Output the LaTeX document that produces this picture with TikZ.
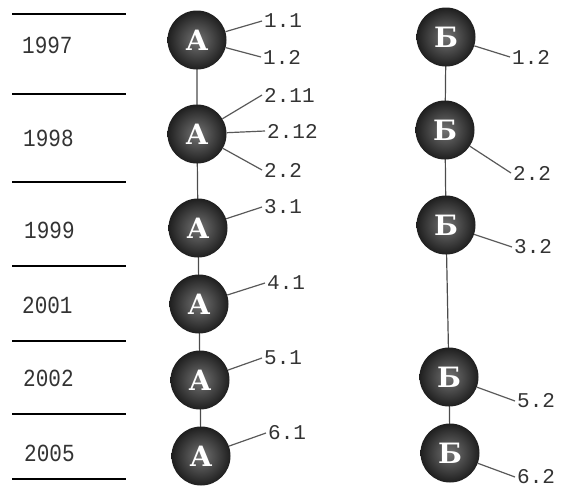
\documentclass[tikz,border=0pt]{standalone}
\usepackage{fontspec}
\setmonofont{Liberation Mono}
\newfontfamily\letterfont{DejaVu Serif}
\newcommand{\yeartext}[1]{\scalebox{1}[1.17]{#1}}
\begin{document}
\begin{tikzpicture}[x=1pt,y=-1pt,
  ball/.style={circle,minimum size=59pt,inner sep=0pt,shade,inner color=black!55,outer color=black!88,
    text=white,font=\letterfont\bfseries\fontsize{28}{28}\selectfont},
  lbl/.style={anchor=west,inner sep=2pt,text=black!80,font=\ttfamily\fontsize{21}{21}\selectfont},
  yr/.style={anchor=west,inner sep=0pt,text=black!80,font=\ttfamily\fontsize{21}{21}\selectfont},
  rule/.style={line width=2pt,black},
  link/.style={line width=1.2pt,black!70},
  leg/.style={line width=1.2pt,black!65}]
\useasboundingbox (0,0) rectangle (565,491);
% horizontal rules
\foreach \i/\y in {r1/14,r2/94,r3/182,r4/266,r5/341,r6/414,r7/479}{
  \coordinate (\i a) at (12,\y); \coordinate (\i b) at (126,\y);
  \draw[rule] (\i a) -- (\i b);}
% years
\node[yr] (y1) at (22,45) {\yeartext{1997}};
\node[yr] (y2) at (23,138) {\yeartext{1998}};
\node[yr] (y3) at (24,230) {\yeartext{1999}};
\node[yr] (y4) at (22,305) {\yeartext{2001}};
\node[yr] (y5) at (23,378) {\yeartext{2002}};
\node[yr] (y6) at (24,453) {\yeartext{2005}};
% A column
\coordinate (ca1) at (197,40);
\coordinate (ca2) at (197,134);
\coordinate (ca3) at (198,228);
\coordinate (ca4) at (199,304);
\coordinate (ca5) at (200,380);
\coordinate (ca6) at (201,456);
% B column
\coordinate (cb1) at (446,37);
\coordinate (cb2) at (445,130);
\coordinate (cb3) at (446,225);
\coordinate (cb5) at (449,377);
\coordinate (cb6) at (450,453);
% vertical links (drawn first, under balls)
\draw[link] (ca1) -- (ca2) -- (ca3) -- (ca4) -- (ca5) -- (ca6);
\draw[link] (cb1) -- (cb2) -- (cb3) -- (cb5) -- (cb6);
% balls
\foreach \n in {1,...,6}{\node[ball] (A\n) at (ca\n) {А};}
\foreach \n in {1,2,3,5,6}{\node[ball] (B\n) at (cb\n) {Б};}
% labels A
\node[lbl] (l11) at (262,21) {1.1};
\node[lbl] (l12) at (261,57) {1.2};
\node[lbl] (l211) at (262,95) {2.11};
\node[lbl] (l212) at (265,131) {2.12};
\node[lbl] (l22) at (262,170) {2.2};
\node[lbl] (l31) at (262,207) {3.1};
\node[lbl] (l41) at (265,283) {4.1};
\node[lbl] (l51) at (262,358) {5.1};
\node[lbl] (l61) at (266,433) {6.1};
% labels B
\node[lbl] (m12) at (510,57) {1.2};
\node[lbl] (m22) at (511,173) {2.2};
\node[lbl] (m32) at (512,247) {3.2};
\node[lbl] (m52) at (515,401) {5.2};
\node[lbl] (m62) at (515,477) {6.2};
% legs
\draw[leg] (A1) -- (l11.west);
\draw[leg] (A1) -- (l12.west);
\draw[leg] (A2) -- (l211.west);
\draw[leg] (A2) -- (l212.west);
\draw[leg] (A2) -- (l22.west);
\draw[leg] (A3) -- (l31.west);
\draw[leg] (A4) -- (l41.west);
\draw[leg] (A5) -- (l51.west);
\draw[leg] (A6) -- (l61.west);
\draw[leg] (B1) -- (m12.west);
\draw[leg] (B2) -- (m22.west);
\draw[leg] (B3) -- (m32.west);
\draw[leg] (B5) -- (m52.west);
\draw[leg] (B6) -- (m62.west);
\end{tikzpicture}
\end{document}
